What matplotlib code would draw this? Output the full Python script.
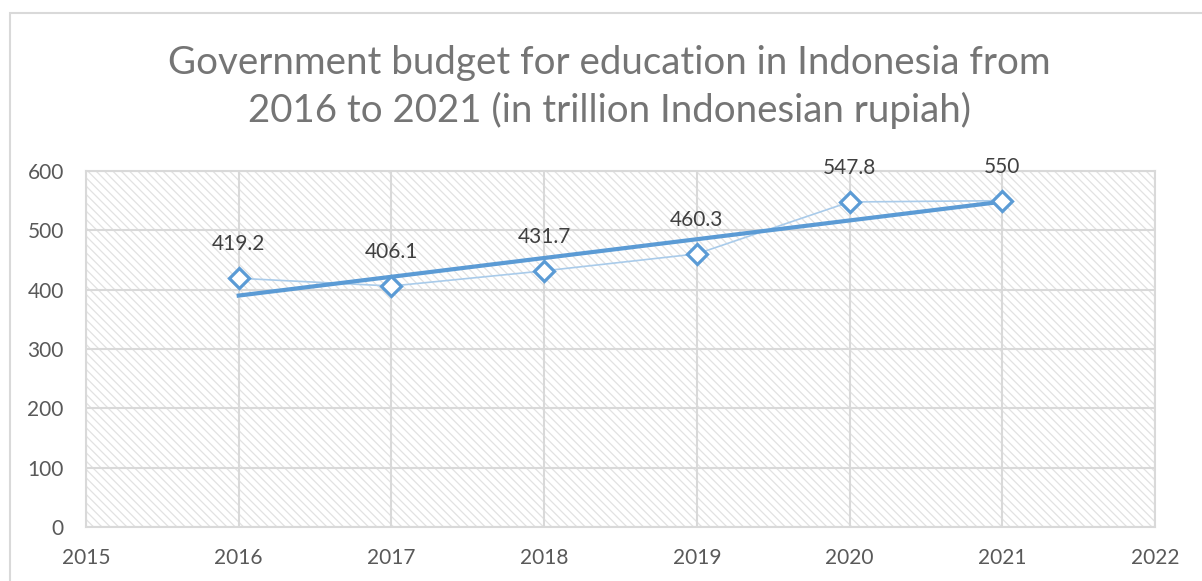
import numpy as np
import matplotlib.pyplot as plt
from matplotlib.patches import Rectangle

years = [2016, 2017, 2018, 2019, 2020, 2021]
budget = [419.2, 406.1, 431.7, 460.3, 547.8, 550]
labels = ["419.2", "406.1", "431.7", "460.3", "547.8", "550"]

W, H = 1202, 581
fig = plt.figure(figsize=(W / 100, H / 100), dpi=100)
plt.rcParams['font.family'] = ['Lato', 'DejaVu Sans']
plt.rcParams['hatch.linewidth'] = 0.9

# outer chart border
fig.patches.append(Rectangle((10 / W, -0.1), 1.2, 1.1 - 13 / H, transform=fig.transFigure,
                             fill=False, edgecolor='#d9d9d9', linewidth=1.5))

ax = fig.add_axes([86 / W, 1 - 527 / H, (1155 - 86) / W, (527 - 171) / H])
ax.add_patch(Rectangle((0, 0), 1, 1, transform=ax.transAxes, facecolor='white',
                       edgecolor='#e2e2e2', linewidth=0, hatch='\\\\\\\\', zorder=0))

ax.set_xlim(2015, 2022)
ax.set_ylim(0, 600)
ax.set_xticks(range(2015, 2023))
ax.set_yticks(range(0, 601, 100))
ax.grid(True, color='#d9d9d9', linewidth=1.5)
ax.set_axisbelow(True)
for s in ax.spines.values():
    s.set_color('#d9d9d9')
    s.set_linewidth(1.5)
ax.tick_params(length=0, labelsize=15, labelcolor='#595959')
ax.tick_params(axis='x', pad=15)
ax.tick_params(axis='y', pad=16)

# data series
ax.plot(years, budget, color='#a9cbea', linewidth=1.2, zorder=3)
ax.plot(years, budget, linestyle='none', marker='D', markersize=10,
        markerfacecolor='white', markeredgecolor='#5b9bd5', markeredgewidth=2.3, zorder=5)

# linear trendline
k, b = np.polyfit(years, budget, 1)
tx = np.array([years[0], years[-1]])
ax.plot(tx, k * tx + b, color='#5b9bd5', linewidth=3, zorder=4)

for x, y, t in zip(years, budget, labels):
    ax.annotate(t, (x, y), xytext=(0, 34), textcoords='offset pixels',
                ha='center', va='center', fontsize=15, color='#404040', zorder=6)

fig.text(609 / W, 1 - 63 / H, "Government budget for education in Indonesia from",
         ha='center', va='center', fontsize=27.7, color='#757575')
fig.text(609 / W, 1 - 110 / H, "2016 to 2021 (in trillion Indonesian rupiah)",
         ha='center', va='center', fontsize=27.7, color='#757575')

fig.savefig('out.png', dpi=100)
